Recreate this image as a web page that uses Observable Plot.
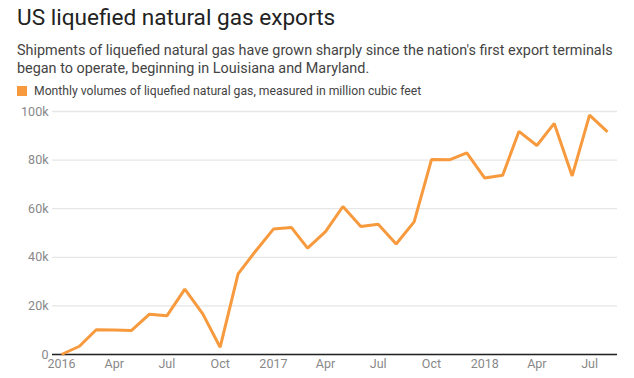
<!DOCTYPE html>
<html>
<head>
<meta charset="utf-8">
<script src="https://cdn.jsdelivr.net/npm/d3@7"></script>
<script src="https://cdn.jsdelivr.net/npm/@observablehq/plot@0.6"></script>
<style>
  html, body { margin: 0; padding: 0; background: #fff; }
  body { width: 634px; height: 378px; position: relative; overflow: hidden; font-family: Roboto, "Noto Sans", sans-serif; }
  #title { position: absolute; left: 17px; top: 4px; font-size: 22.6px; color: #222; white-space: nowrap; }
  #subtitle { position: absolute; left: 17px; top: 42px; font-size: 14.4px; line-height: 18px; color: #444; width: 610px; }
  #legend { position: absolute; left: 17px; top: 84px; font-size: 12.2px; color: #444; white-space: nowrap; display: flex; align-items: center; }
  #legend .sw { width: 10px; height: 10px; background: #F79A3E; margin-right: 7px; display: inline-block; }
  #chart { position: absolute; left: 0; top: 100px; }
</style>
</head>
<body>
<div id="title">US liquefied natural gas exports</div>
<div id="subtitle">Shipments of liquefied natural gas have grown sharply since the nation's first export terminals began to operate, beginning in Louisiana and Maryland.</div>
<div id="legend"><span class="sw"></span>Monthly volumes of liquefied natural gas, measured in million cubic feet</div>
<div id="chart"></div>
<script>
const months = [
  "2016-01","2016-02","2016-03","2016-04","2016-05","2016-06","2016-07","2016-08","2016-09","2016-10","2016-11","2016-12",
  "2017-01","2017-02","2017-03","2017-04","2017-05","2017-06","2017-07","2017-08","2017-09","2017-10","2017-11","2017-12",
  "2018-01","2018-02","2018-03","2018-04","2018-05","2018-06","2018-07","2018-08"
];
const volumes = [
  0, 3400, 10200, 10100, 9900, 16600, 15900, 26900, 16700, 3000, 33200, 42500,
  51600, 52300, 43800, 50600, 60900, 52700, 53600, 45500, 54600, 80200, 80100, 83000,
  72600, 73800, 91800, 86000, 95100, 73500, 98500, 91600
];
const yTicks = [0, 20000, 40000, 60000, 80000, 100000];
const yTickLabels = ["0", "20k", "40k", "60k", "80k", "100k"];
const xTicks = ["2016-01","2016-04","2016-07","2016-10","2017-01","2017-04","2017-07","2017-10","2018-01","2018-04","2018-07"];
const xTickLabels = ["2016","Apr","Jul","Oct","2017","Apr","Jul","Oct","2018","Apr","Jul"];

const parse = d3.utcParse("%Y-%m");
const data = months.map((m, i) => ({date: parse(m), value: volumes[i]}));
const xTickDates = xTicks.map(parse);
const xLabelMap = new Map(xTickDates.map((d, i) => [+d, xTickLabels[i]]));
const yLabelMap = new Map(yTicks.map((v, i) => [v, yTickLabels[i]]));

const chart = Plot.plot({
  width: 634,
  height: 276,
  marginLeft: 52,
  marginRight: 17,
  marginTop: 11,
  marginBottom: 22,
  style: {fontFamily: "Roboto, 'Noto Sans', sans-serif", fontSize: "12.5px", color: "#888", background: "transparent"},
  x: {type: "utc", domain: [parse("2016-01"), parse("2018-08")], insetLeft: 9, insetRight: 10},
  y: {domain: [0, 100000]},
  marks: [
    Plot.gridY(yTicks, {stroke: "#e6e6e6", strokeOpacity: 1, strokeWidth: 1.3}),
    Plot.axisY(yTicks, {tickSize: 0, tickPadding: 4, tickFormat: d => yLabelMap.get(d), fill: "#888", label: null}),
    Plot.axisX(xTickDates, {tickSize: 0, tickPadding: 5, tickFormat: d => xLabelMap.get(+d), fill: "#888", label: null}),
    Plot.ruleY([0], {stroke: "#222", strokeWidth: 1.3}),
    Plot.line(data, {x: "date", y: "value", stroke: "#F79A3E", strokeWidth: 3, strokeLinejoin: "miter", strokeLinecap: "butt"})
  ]
});
document.getElementById("chart").appendChild(chart);
</script>
</body>
</html>
